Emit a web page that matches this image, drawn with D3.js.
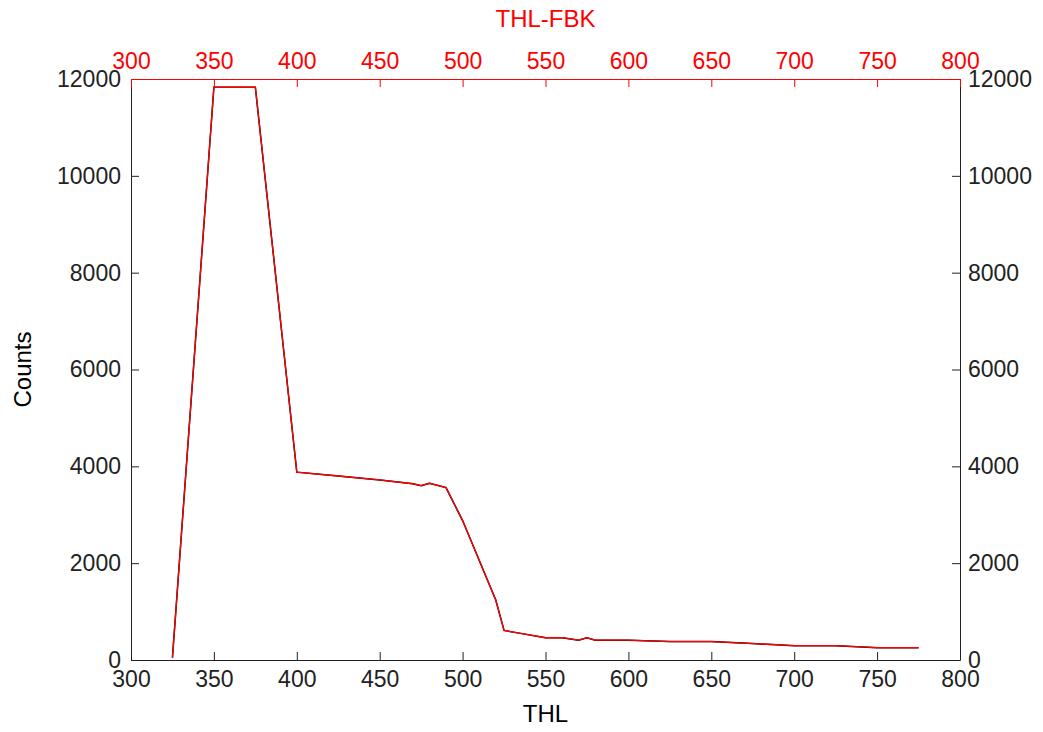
<!DOCTYPE html>
<html>
<head>
<meta charset="utf-8">
<script src="https://cdn.jsdelivr.net/npm/d3@7"></script>
<style>
  body { margin: 0; background: #fff; }
  text { font-family: "Liberation Sans", Arial, sans-serif; }
</style>
</head>
<body>
<div id="chart"></div>
<script>
// THL values and counts
var thl = [325, 350, 375, 400, 425, 450, 470, 475, 480, 490, 500, 520, 525, 535, 550, 560, 570, 575, 580, 600, 625, 650, 675, 700, 725, 750, 775];
var counts = [50, 11830, 11830, 3880, 3800, 3720, 3640, 3600, 3650, 3560, 2880, 1240, 610, 550, 460, 460, 410, 460, 410, 410, 380, 380, 340, 295, 295, 255, 255];
// second series (THL-FBK) sits right on top of the first
var countsFbk = [50, 11830, 11830, 3880, 3800, 3720, 3640, 3600, 3650, 3560, 2880, 1240, 610, 550, 460, 460, 410, 460, 410, 410, 380, 380, 340, 295, 295, 255, 255];
var xTicks = [300, 350, 400, 450, 500, 550, 600, 650, 700, 750, 800];
var yTicks = [0, 2000, 4000, 6000, 8000, 10000, 12000];

var svgWidth = 1043, svgHeight = 732;
var margin = {top: 79, right: 83, bottom: 72, left: 131};
var width = svgWidth - margin.left - margin.right,
    height = svgHeight - margin.top - margin.bottom;

var svg = d3.select("#chart").append("svg")
    .attr("width", svgWidth)
    .attr("height", svgHeight);

var chart = svg.append("g")
    .attr("transform", `translate(${margin.left}, ${margin.top})`);

var x = d3.scaleLinear().domain([300, 800]).range([0, width]);
var x2 = d3.scaleLinear().domain([300, 800]).range([0, width]);
var y = d3.scaleLinear().domain([0, 12000]).range([height, 0]);

function styleAxis(g, color) {
    g.selectAll(".domain").attr("stroke", color);
    g.selectAll(".tick line").attr("stroke", color);
    g.selectAll(".tick text").attr("fill", color).style("font-size", "23px");
    g.attr("font-family", null);
}

// bottom axis
var bottomAxis = chart.append("g")
    .attr("transform", `translate(0, ${height})`)
    .call(d3.axisBottom(x).tickValues(xTicks).tickFormat(d3.format("d"))
        .tickSizeInner(-8).tickSizeOuter(0).tickPadding(11));
styleAxis(bottomAxis, "#222");

// left axis
var leftAxis = chart.append("g")
    .call(d3.axisLeft(y).tickValues(yTicks).tickFormat(d3.format("d"))
        .tickSizeInner(-8).tickSizeOuter(0).tickPadding(10));
styleAxis(leftAxis, "#222");

// right axis
var rightAxis = chart.append("g")
    .attr("transform", `translate(${width}, 0)`)
    .call(d3.axisRight(y).tickValues(yTicks).tickFormat(d3.format("d"))
        .tickSizeInner(-8).tickSizeOuter(0).tickPadding(8));
styleAxis(rightAxis, "#222");

// top axis in red for the second series
var topAxis = chart.append("g")
    .call(d3.axisTop(x2).tickValues(xTicks).tickFormat(d3.format("d"))
        .tickSizeInner(-8).tickSizeOuter(0).tickPadding(10));
styleAxis(topAxis, "#ff0000");

var line1 = d3.line()
    .x((d, i) => x(thl[i]))
    .y(d => y(d));
var line2 = d3.line()
    .x((d, i) => x2(thl[i]))
    .y(d => y(d));

chart.append("path")
    .datum(counts)
    .attr("fill", "none")
    .attr("stroke", "#000")
    .attr("stroke-width", 1.5)
    .attr("d", line1);

chart.append("path")
    .datum(countsFbk)
    .attr("fill", "none")
    .attr("stroke", "#ff0000")
    .attr("stroke-width", 1.3)
    .attr("d", line2);

// axis titles
svg.append("text")
    .attr("x", margin.left + width / 2)
    .attr("y", 722)
    .attr("text-anchor", "middle")
    .style("font-size", "24px")
    .text("THL");

svg.append("text")
    .attr("x", margin.left + width / 2)
    .attr("y", 27)
    .attr("text-anchor", "middle")
    .attr("fill", "#ff0000")
    .style("font-size", "24px")
    .text("THL-FBK");

svg.append("text")
    .attr("transform", `translate(31, ${margin.top + height / 2}) rotate(-90)`)
    .attr("text-anchor", "middle")
    .style("font-size", "24px")
    .text("Counts");
</script>
</body>
</html>
